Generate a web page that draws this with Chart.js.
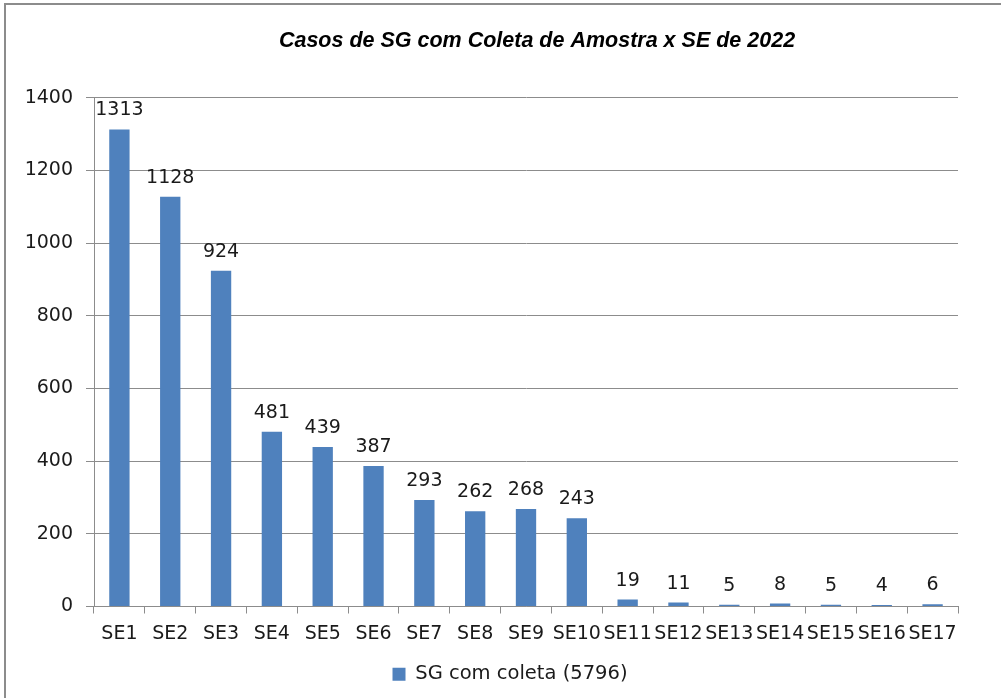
<!DOCTYPE html>
<html>
<head>
<meta charset="utf-8">
<script src="https://cdn.jsdelivr.net/npm/chart.js@4"></script>
<style>
  html, body { margin: 0; padding: 0; background: #fff; overflow: hidden; }
  #frame {
    position: absolute; left: 4px; top: 3px; width: 1100px; height: 800px;
    border-left: 2px solid #8c8c8c; border-top: 2px solid #8c8c8c;
  }
  #wrap { position: absolute; left: 0; top: 0; width: 1001px; height: 698px; }
</style>
</head>
<body>
<div id="frame"></div>
<div id="wrap"><canvas id="myChart" width="1001" height="698"></canvas></div>
<script>
var weeks = ["SE1", "SE2", "SE3", "SE4", "SE5", "SE6", "SE7", "SE8", "SE9",
  "SE10", "SE11", "SE12", "SE13", "SE14", "SE15", "SE16", "SE17"];
var casos = [1313, 1128, 924, 481, 439, 387, 293, 262, 268, 243, 19, 11, 5, 8, 5, 4, 6];
var yTicks = [0, 200, 400, 600, 800, 1000, 1200, 1400];

var barColor = "#4f81bd";
var gridColor = "#8c8c8c";
var textColor = "#1a1a1a";
var font = "DejaVu Sans";

// value on top of every bar
var valueLabels = {
  id: "valueLabels",
  afterDatasetsDraw: function (chart) {
    var ctx = chart.ctx;
    var meta = chart.getDatasetMeta(0);
    ctx.save();
    ctx.font = "19px '" + font + "'";
    ctx.fillStyle = textColor;
    ctx.textAlign = "center";
    ctx.textBaseline = "alphabetic";
    meta.data.forEach(function (bar, i) {
      ctx.fillText(casos[i], bar.x, bar.y - 14);
    });
    ctx.restore();
  },
};

// title and legend sit a bit right of the plot's centre
var shiftBlocks = {
  id: "shiftBlocks",
  afterLayout: function (chart) {
    if (chart.titleBlock) {
      chart.titleBlock.left += 58;
      chart.titleBlock.right += 58;
    }
    if (chart.legend) {
      chart.legend.left += 31;
      chart.legend.right += 31;
    }
  },
};

new Chart("myChart", {
  type: "bar",
  data: {
    labels: weeks,
    datasets: [
      {
        label: "SG com coleta (5796)",
        data: casos,
        backgroundColor: barColor,
        barPercentage: 0.4,
        categoryPercentage: 1,
      },
    ],
  },
  options: {
    responsive: false,
    animation: false,
    layout: {
      padding: { left: 0, right: 43, top: 0, bottom: 4 },
    },
    plugins: {
      title: {
        display: true,
        text: "Casos de SG com Coleta de Amostra x SE de 2022",
        color: "#000",
        font: { family: "Liberation Sans", size: 21.5, style: "italic", weight: "bold" },
        padding: { top: 28, bottom: 44 },
      },
      legend: {
        position: "bottom",
        labels: {
          color: textColor,
          font: { family: font, size: 19.5 },
          boxWidth: 13,
          boxHeight: 13,
          padding: 10,
        },
      },
      tooltip: { enabled: false },
    },
    scales: {
      x: {
        afterFit: function (scale) {
          scale.height = 48;
        },
        border: { display: true, color: gridColor, width: 1 },
        grid: {
          display: true,
          drawOnChartArea: false,
          drawTicks: true,
          tickLength: 7,
          color: gridColor,
        },
        ticks: {
          color: textColor,
          font: { family: font, size: 19 },
          padding: 9,
          maxRotation: 0,
          autoSkip: false,
        },
      },
      y: {
        min: 0,
        max: 1400,
        afterFit: function (scale) {
          scale.width = 94;
        },
        afterBuildTicks: function (scale) {
          scale.ticks = yTicks.map(function (v) {
            return { value: v };
          });
        },
        border: { display: true, color: gridColor, width: 1 },
        grid: {
          color: gridColor,
          tickLength: 8,
        },
        ticks: {
          color: textColor,
          font: { family: font, size: 19 },
          padding: 13,
          callback: function (value) {
            return String(value);
          },
        },
      },
    },
  },
  plugins: [valueLabels, shiftBlocks],
});
</script>
</body>
</html>
